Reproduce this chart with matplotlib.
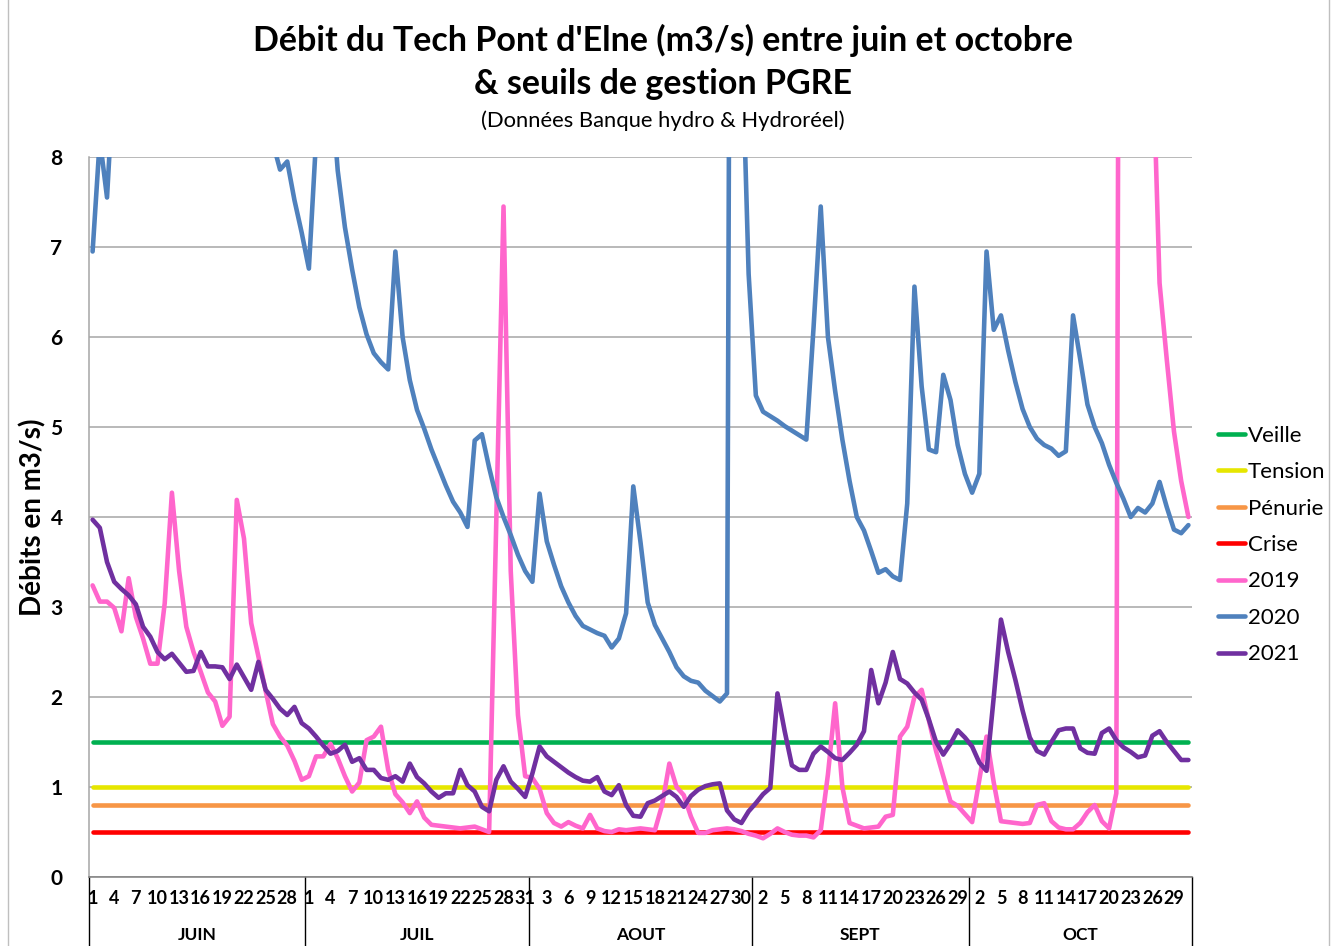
import numpy as np
import matplotlib
matplotlib.use("Agg")
import matplotlib.pyplot as plt
from matplotlib.lines import Line2D
from matplotlib.transforms import blended_transform_factory

plt.rcParams['font.family'] = ['Lato', 'DejaVu Sans']

# ---------------- data ----------------
months = ["JUIN", "JUIL", "AOUT", "SEPT", "OCT"]
month_lengths = [30, 31, 31, 30, 31]

seuil_labels = ["Veille", "Tension", "Pénurie", "Crise"]
seuil_values = [1.5, 1.0, 0.8, 0.5]
seuil_colors = ["#00B050", "#E6E600", "#F79646", "#FF0000"]

year_labels = ["2019", "2020", "2021"]
year_colors = ["#FF66CC", "#4F81BD", "#7030A0"]

q2019_juin = [3.24, 3.06, 3.06, 2.99, 2.73, 3.32, 2.89, 2.65, 2.37, 2.37,
              3.04, 4.27, 3.40, 2.78, 2.50, 2.28, 2.05, 1.95, 1.68, 1.78,
              4.19, 3.76, 2.82, 2.45, 2.07, 1.70, 1.56, 1.46, 1.29, 1.08]
q2019_juil = [1.12, 1.34, 1.34, 1.48, 1.32, 1.12, 0.95, 1.05, 1.52, 1.56,
              1.67, 1.19, 0.92, 0.83, 0.71, 0.84, 0.66, 0.58, 0.57, 0.56,
              0.55, 0.54, 0.55, 0.56, 0.53, 0.50, 4.00, 7.45, 3.40, 1.80, 1.12]
q2019_aout = [1.10, 0.98, 0.71, 0.60, 0.56, 0.61, 0.57, 0.54, 0.69, 0.54,
              0.51, 0.50, 0.53, 0.52, 0.53, 0.54, 0.53, 0.52, 0.80, 1.26,
              1.00, 0.91, 0.67, 0.49, 0.49, 0.52, 0.53, 0.54, 0.53, 0.51, 0.48]
q2019_sept = [0.46, 0.43, 0.48, 0.54, 0.50, 0.47, 0.46, 0.46, 0.44, 0.52,
              1.14, 1.93, 1.00, 0.60, 0.57, 0.54, 0.55, 0.56, 0.67, 0.69,
              1.56, 1.67, 2.00, 2.08, 1.74, 1.40, 1.12, 0.84, 0.79, 0.70]
q2019_oct = [0.61, 1.08, 1.56, 1.05, 0.62, 0.61, 0.60, 0.59, 0.60, 0.80,
             0.82, 0.62, 0.55, 0.53, 0.53, 0.60, 0.72, 0.80, 0.62, 0.54,
             0.93, 30.0, 24.0, 16.0, 11.0, 9.30, 6.60, 5.75, 4.95, 4.40, 4.00]

q2020_juin = [6.95, 8.20, 7.55, 9.00, 10.2, 11.5, 12.8, 11.9, 11.0, 10.4,
              9.90, 9.50, 13.6, 12.4, 11.5, 10.8, 10.2, 9.80, 9.40, 9.10,
              8.90, 8.70, 8.60, 8.50, 8.40, 8.16, 7.86, 7.95, 7.52, 7.16]
q2020_juil = [6.76, 8.20, 9.50, 8.90, 7.85, 7.22, 6.75, 6.33, 6.03, 5.82,
              5.72, 5.64, 6.95, 6.00, 5.52, 5.19, 4.98, 4.75, 4.55, 4.35,
              4.17, 4.05, 3.89, 4.85, 4.92, 4.55, 4.22, 4.00, 3.80, 3.58, 3.40]
q2020_aout = [3.28, 4.26, 3.73, 3.47, 3.23, 3.05, 2.90, 2.79, 2.75, 2.71,
              2.68, 2.55, 2.65, 2.93, 4.34, 3.72, 3.05, 2.80, 2.65, 2.50,
              2.33, 2.23, 2.18, 2.16, 2.07, 2.01, 1.95, 2.04, 25.0, 9.50, 6.70]
q2020_sept = [5.35, 5.17, 5.12, 5.07, 5.01, 4.96, 4.91, 4.86, 6.10, 7.45,
              6.00, 5.40, 4.86, 4.40, 4.00, 3.85, 3.62, 3.38, 3.42, 3.34,
              3.30, 4.15, 6.56, 5.45, 4.75, 4.72, 5.58, 5.30, 4.80, 4.48]
q2020_oct = [4.27, 4.48, 6.95, 6.08, 6.24, 5.85, 5.50, 5.20, 5.00, 4.87,
             4.80, 4.76, 4.68, 4.73, 6.24, 5.75, 5.25, 5.00, 4.82, 4.58,
             4.38, 4.20, 4.00, 4.10, 4.05, 4.15, 4.39, 4.11, 3.86, 3.82, 3.91]

q2021_juin = [3.97, 3.88, 3.50, 3.28, 3.20, 3.13, 3.03, 2.78, 2.67, 2.50,
              2.42, 2.48, 2.38, 2.28, 2.29, 2.50, 2.34, 2.34, 2.33, 2.20,
              2.36, 2.22, 2.08, 2.39, 2.08, 1.98, 1.87, 1.80, 1.89, 1.71]
q2021_juil = [1.65, 1.56, 1.46, 1.37, 1.40, 1.47, 1.28, 1.32, 1.19, 1.19,
              1.10, 1.08, 1.12, 1.06, 1.26, 1.11, 1.04, 0.95, 0.88, 0.93,
              0.93, 1.19, 1.02, 0.95, 0.78, 0.73, 1.08, 1.23, 1.06, 0.98, 0.89]
q2021_aout = [1.15, 1.45, 1.34, 1.28, 1.22, 1.16, 1.11, 1.07, 1.06, 1.11,
              0.95, 0.91, 1.02, 0.80, 0.68, 0.67, 0.82, 0.85, 0.90, 0.95,
              0.89, 0.78, 0.90, 0.97, 1.01, 1.03, 1.04, 0.74, 0.64, 0.60, 0.73]
q2021_sept = [0.82, 0.92, 0.99, 2.04, 1.62, 1.24, 1.19, 1.19, 1.37, 1.45,
              1.39, 1.32, 1.30, 1.38, 1.47, 1.62, 2.30, 1.93, 2.16, 2.50,
              2.20, 2.15, 2.05, 1.97, 1.75, 1.50, 1.36, 1.48, 1.63, 1.55]
q2021_oct = [1.45, 1.27, 1.18, 2.00, 2.86, 2.50, 2.19, 1.85, 1.55, 1.40,
             1.36, 1.50, 1.63, 1.65, 1.65, 1.43, 1.38, 1.37, 1.60, 1.65,
             1.52, 1.44, 1.39, 1.33, 1.35, 1.57, 1.62, 1.50, 1.40, 1.30, 1.30]

q2019 = q2019_juin + q2019_juil + q2019_aout + q2019_sept + q2019_oct
q2020 = q2020_juin + q2020_juil + q2020_aout + q2020_sept + q2020_oct
q2021 = q2021_juin + q2021_juil + q2021_aout + q2021_sept + q2021_oct

title_l1 = "Débit du Tech Pont d'Elne (m3/s) entre juin et octobre"
title_l2 = "& seuils de gestion PGRE"
subtitle = "(Données Banque hydro & Hydroréel)"
ylabel = "Débits en m3/s)"

# ---------------- figure ----------------
W, H = 1335, 946
fig = plt.figure(figsize=(W / 100, H / 100), dpi=100)
fig.patch.set_facecolor("white")

L, R, T, B = 89, 1192, 157, 877
ax = fig.add_axes([L / W, 1 - B / H, (R - L) / W, (B - T) / H])

n = sum(month_lengths)
x = np.arange(n)
day_numbers = np.concatenate([np.arange(1, m + 1) for m in month_lengths])

lw = 3.3
for lab, val, col in zip(seuil_labels, seuil_values, seuil_colors):
    ax.plot(x, np.full(n, val), color=col, lw=lw, label=lab,
            solid_capstyle='round')
for lab, data, col in zip(year_labels, [q2019, q2020, q2021], year_colors):
    ax.plot(x, data, color=col, lw=lw, label=lab,
            solid_capstyle='round', solid_joinstyle='round')

ax.set_xlim(-0.5, n - 0.5)
ax.set_ylim(0, 8)
ax.set_yticks(range(0, 9))
ax.grid(axis='y', color='#A6A6A6', lw=1.1)
ax.set_axisbelow(True)

for s in ['top', 'right']:
    ax.spines[s].set_visible(False)
ax.spines['left'].set_color('#A6A6A6')
ax.spines['left'].set_linewidth(1.1)
ax.spines['bottom'].set_color('#808080')
ax.spines['bottom'].set_linewidth(1.1)

ax.tick_params(axis='y', length=0, pad=19, labelsize=15)
for t in ax.get_yticklabels():
    t.set_fontweight('bold')

tick_idx = np.arange(0, n, 3)
ax.set_xticks(tick_idx)
ax.set_xticklabels([str(d) for d in day_numbers[tick_idx]],
                   fontsize=13, fontweight='bold')
ax.tick_params(axis='x', length=0, pad=9)

trans = blended_transform_factory(ax.transData, ax.transAxes)
bounds = np.concatenate([[0], np.cumsum(month_lengths)]) - 0.5
for b in bounds:
    ax.plot([b, b], [0, -0.12], transform=trans, color='black', lw=1.0,
            clip_on=False)
for i, m in enumerate(months):
    c = (bounds[i] + bounds[i + 1]) / 2
    ax.text(c, -(935 - B) / (B - T), m, transform=trans, ha='center',
            va='center', fontsize=12.5, fontweight='bold')

ax.set_ylabel(ylabel, fontsize=20, fontweight='bold')
ax.yaxis.set_label_coords((46 - L) / (R - L), 0.5)

fig.text(663 / W, 1 - 40 / H, title_l1, ha='center', va='center',
         fontsize=24.5, fontweight='bold')
fig.text(663 / W, 1 - 84 / H, title_l2, ha='center', va='center',
         fontsize=24.5, fontweight='bold')
fig.text(663 / W, 1 - 121 / H, subtitle, ha='center', va='center',
         fontsize=15.8)

leg = fig.legend(loc='center left', bbox_to_anchor=(1218 / W, 1 - 545 / H),
                 frameon=False, fontsize=16, handlelength=1.22,
                 handletextpad=0.12, labelspacing=0.74, borderpad=0,
                 borderaxespad=0)

for xf in [8 / W, 1329 / W]:
    fig.add_artist(Line2D([xf, xf], [0, 1], transform=fig.transFigure,
                          color='#BFBFBF', lw=1.0))

fig.savefig("out.png", dpi=100, facecolor='white')
